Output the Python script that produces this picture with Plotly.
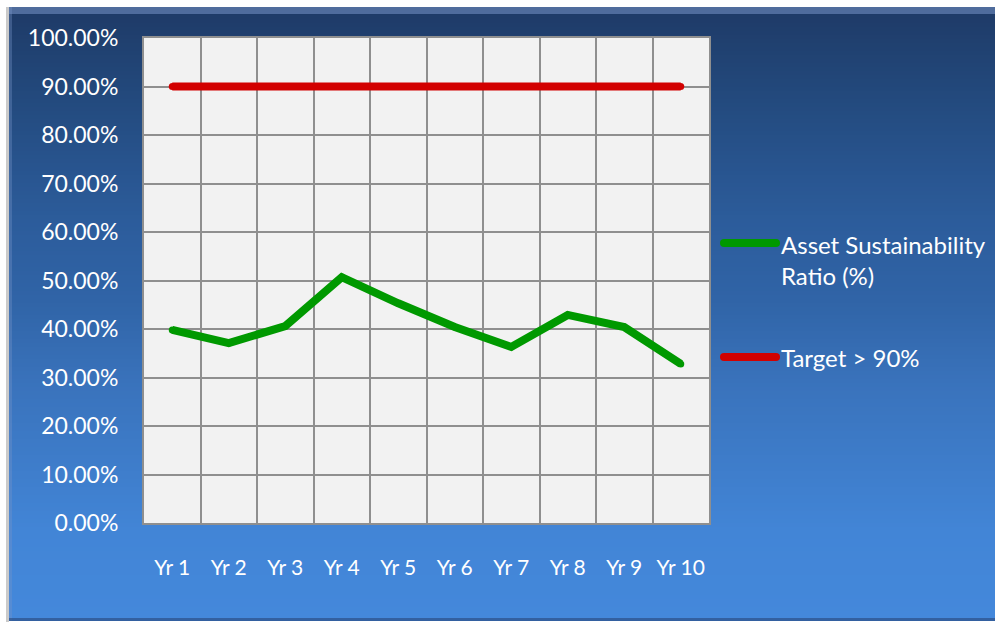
import plotly.graph_objects as go

# ---- data -------------------------------------------------------------
years = ["Yr 1", "Yr 2", "Yr 3", "Yr 4", "Yr 5", "Yr 6", "Yr 7", "Yr 8", "Yr 9", "Yr 10"]
asset_ratio = [0.398, 0.371, 0.406, 0.507, 0.453, 0.404, 0.363, 0.429, 0.404, 0.328]
target = [0.90] * len(years)
series_names = ["Asset Sustainability<br>Ratio (%)", "Target > 90%"]
series_colors = ["#009900", "#d20000"]
y_ticks = [i / 10 for i in range(11)]

# ---- canvas geometry (pixels) -----------------------------------------
W, H = 995, 624
L, R, T, B = 144, 286, 38, 101
PW, PH = W - L - R, H - T - B


def px_x(px):
    return (px - L) / PW


def px_y(py):
    return (H - B - py) / PH


FONT = "Lato, 'Open Sans', sans-serif"

fig = go.Figure()

for name, vals, col in zip(series_names, [asset_ratio, target], series_colors):
    fig.add_trace(go.Scatter(
        x=years, y=vals, name=name.replace("<br>", " "),
        mode="lines+markers",
        line=dict(color=col, width=8),
        marker=dict(color=col, size=7, line=dict(width=0)),
        showlegend=False, hoverinfo="skip",
    ))

# ---- blue gradient panel behind the chart ------------------------------
stops = [
    (7, (0x1e, 0x3a, 0x66)),
    (100, (0x23, 0x4a, 0x7e)),
    (220, (0x2c, 0x5c, 0x9b)),
    (300, (0x30, 0x64, 0xa7)),
    (380, (0x39, 0x72, 0xbb)),
    (530, (0x42, 0x85, 0xd6)),
    (621, (0x44, 0x88, 0xdb)),
]


def grad_color(py):
    for (y0, c0), (y1, c1) in zip(stops[:-1], stops[1:]):
        if y0 <= py <= y1:
            t = (py - y0) / (y1 - y0)
            return "rgb(%d,%d,%d)" % tuple(round(a + (b - a) * t) for a, b in zip(c0, c1))
    return "rgb(%d,%d,%d)" % stops[-1][1]


shapes = []
panel_top, panel_bot, panel_left = 7, 621, 9
step = 4
y = panel_top
while y < panel_bot:
    y2 = min(y + step + 1, panel_bot)
    shapes.append(dict(type="rect", xref="paper", yref="paper", layer="below",
                       x0=px_x(panel_left), x1=px_x(W + 2), y0=px_y(y), y1=px_y(y2),
                       line=dict(width=0), fillcolor=grad_color(y + step / 2)))
    y += step

# bevel highlights on the panel edges
shapes.append(dict(type="rect", xref="paper", yref="paper", layer="below",
                   x0=px_x(panel_left), x1=px_x(W + 2), y0=px_y(7), y1=px_y(14),
                   line=dict(width=0), fillcolor="rgba(120,150,200,0.55)"))
shapes.append(dict(type="rect", xref="paper", yref="paper", layer="below",
                   x0=px_x(panel_left), x1=px_x(panel_left + 3), y0=px_y(7), y1=px_y(621),
                   line=dict(width=0), fillcolor="rgba(120,150,200,0.35)"))
shapes.append(dict(type="rect", xref="paper", yref="paper", layer="below",
                   x0=px_x(panel_left), x1=px_x(W + 2), y0=px_y(618), y1=px_y(621),
                   line=dict(width=0), fillcolor="rgba(40,70,120,0.6)"))
# shadow line left of the panel
shapes.append(dict(type="rect", xref="paper", yref="paper", layer="below",
                   x0=px_x(6), x1=px_x(panel_left), y0=px_y(7), y1=px_y(622),
                   line=dict(width=0), fillcolor="rgba(150,150,150,0.5)"))

# plot area fill
shapes.append(dict(type="rect", xref="x domain", yref="y domain", layer="below",
                   x0=0, x1=1, y0=0, y1=1, line=dict(width=0), fillcolor="#f2f2f2"))

# ---- legend drawn at the right of the plot ----------------------------
legend_rows = [(243, 260), (357, 357)]
annotations = []
for (sample_y, text_y), name, col in zip(legend_rows, series_names, series_colors):
    shapes.append(dict(type="line", xref="paper", yref="paper",
                       x0=px_x(724), x1=px_x(776), y0=px_y(sample_y), y1=px_y(sample_y),
                       line=dict(color=col, width=8)))
    for cx in (724, 776):
        shapes.append(dict(type="circle", xref="paper", yref="paper",
                           x0=px_x(cx - 4), x1=px_x(cx + 4),
                           y0=px_y(sample_y + 4), y1=px_y(sample_y - 4),
                           line=dict(width=0), fillcolor=col))
    annotations.append(dict(xref="paper", yref="paper", x=px_x(779), y=px_y(text_y),
                            xanchor="left", yanchor="middle", align="left",
                            text=name, showarrow=False,
                            font=dict(family=FONT, size=24, color="white")))

fig.update_layout(
    width=W, height=H,
    margin=dict(l=L, r=R, t=T, b=B),
    paper_bgcolor="white",
    plot_bgcolor="#f2f2f2",
    shapes=shapes,
    annotations=annotations,
    showlegend=False,
    xaxis=dict(
        type="category", range=[-0.5, len(years) - 0.5],
        tickson="boundaries", ticks="",
        showgrid=True, gridcolor="#8f8f8f", gridwidth=2,
        showline=True, linecolor="#8f8f8f", linewidth=2, mirror=True,
        tickfont=dict(family=FONT, size=21, color="white"),
        ticklabelstandoff=25,
        zeroline=False, fixedrange=True,
    ),
    yaxis=dict(
        range=[0, 1], tickvals=y_ticks, tickformat=".2%",
        showgrid=True, gridcolor="#8f8f8f", gridwidth=2,
        showline=True, linecolor="#8f8f8f", linewidth=2, mirror=True,
        tickfont=dict(family=FONT, size=23, color="white"),
        ticklabelstandoff=19,
        zeroline=False, fixedrange=True,
    ),
)

fig.write_html("out.html", config={"displayModeBar": False})
